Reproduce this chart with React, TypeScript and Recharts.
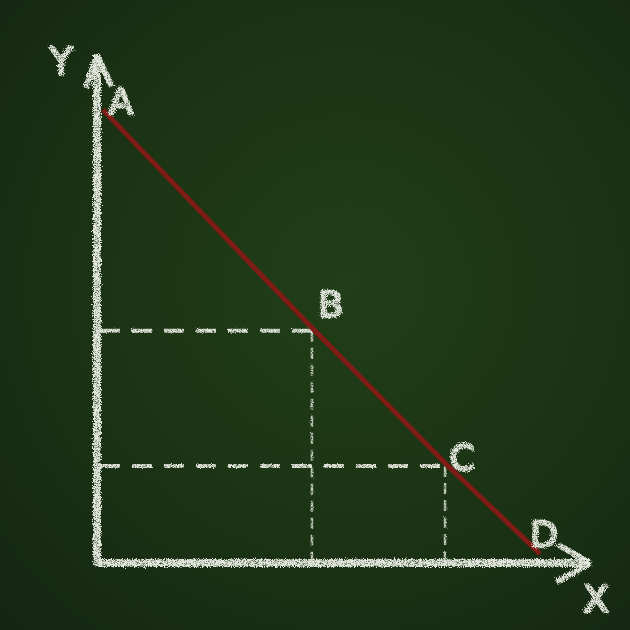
import { ComposedChart, Line, XAxis, YAxis, ReferenceLine, ReferenceDot } from 'recharts'

// points on the red line (0..100 on both axes)
const pointNames = ['A', 'B', 'C', 'D']
const pointX = [1.2, 44.2, 71.2, 89.9]
const pointY = [89.2, 45.7, 19.1, 1.8]

// which points get dashed guide lines to the axes
const guidePoints = ['B', 'C']

const CHALK = '#e2e6dc'
const RED = '#7e1a13'

// label nudges (px) for each letter
const labelNudge: Record<string, [number, number]> = {
  A: [18, -8],
  B: [16, -26],
  C: [14, -8],
  D: [4, -19],
}

const data = pointNames.map((name, i) => ({ name, x: pointX[i], y: pointY[i] }))

const ChalkLetter = ({ viewBox, value, dx, dy, size = 36 }: any) => {
  const cx = viewBox.x + (viewBox.width ?? 0) / 2
  const cy = viewBox.y + (viewBox.height ?? 0) / 2
  return (
    <text
      x={cx + dx}
      y={cy + dy}
      fill={CHALK}
      stroke={CHALK}
      strokeWidth={2.5}
      strokeLinejoin="round"
      fontSize={size}
      fontFamily="DejaVu Sans, sans-serif"
      textAnchor="middle"
      dominantBaseline="central"
      filter="url(#chalk)"
    >
      {value}
    </text>
  )
}

export default function App() {
  return (
    <div
      style={{
        position: 'absolute',
        left: 0,
        top: 0,
        width: 630,
        height: 630,
        background: 'radial-gradient(ellipse at 55% 45%, #213e18 0%, #1b3314 55%, #132611 100%)',
      }}
    >
      <svg width={0} height={0} style={{ position: 'absolute' }}>
        <defs>
          {/* userSpaceOnUse so that straight horizontal / vertical strokes still get a filter region */}
          <filter id="chalk" filterUnits="userSpaceOnUse" x={0} y={0} width={630} height={630}>
            <feTurbulence type="fractalNoise" baseFrequency="0.9" numOctaves={2} result="noise" />
            <feDisplacementMap in="SourceGraphic" in2="noise" scale={6} result="rough" />
            <feTurbulence type="fractalNoise" baseFrequency="1.6" numOctaves={1} seed={3} result="grain" />
            <feColorMatrix in="grain" type="matrix" values="0 0 0 0 0  0 0 0 0 0  0 0 0 0 0  0 0 0 3 -0.55" result="grainA" />
            <feComposite in="rough" in2="grainA" operator="in" />
          </filter>
          <filter id="chalkThin" filterUnits="userSpaceOnUse" x={0} y={0} width={630} height={630}>
            <feTurbulence type="fractalNoise" baseFrequency="1.2" numOctaves={1} result="noise" />
            <feDisplacementMap in="SourceGraphic" in2="noise" scale={3} result="rough" />
            <feTurbulence type="fractalNoise" baseFrequency="1.8" numOctaves={1} seed={7} result="grain" />
            <feColorMatrix in="grain" type="matrix" values="0 0 0 0 0  0 0 0 0 0  0 0 0 0 0  0 0 0 2.6 -0.4" result="grainA" />
            <feComposite in="rough" in2="grainA" operator="in" />
          </filter>
          <filter id="redRough" filterUnits="userSpaceOnUse" x={0} y={0} width={630} height={630}>
            <feTurbulence type="fractalNoise" baseFrequency="0.7" numOctaves={1} seed={5} result="noise" />
            <feDisplacementMap in="SourceGraphic" in2="noise" scale={2.5} />
          </filter>
        </defs>
      </svg>
      <ComposedChart
        width={630}
        height={630}
        data={data}
        margin={{ top: 55, right: 40, bottom: 67, left: 97 }}
      >
        <XAxis type="number" dataKey="x" domain={[0, 100]} tick={false} tickLine={false} height={0} axisLine={false} />
        <YAxis type="number" dataKey="y" domain={[0, 100]} tick={false} tickLine={false} width={0} axisLine={false} />

        {/* chalk axes */}
        <ReferenceLine segment={[{ x: 0, y: -0.5 }, { x: 0, y: 100 }]} stroke={CHALK} strokeWidth={8} ifOverflow="visible" filter="url(#chalk)" />
        <ReferenceLine segment={[{ x: 0, y: 0 }, { x: 100, y: 0 }]} stroke={CHALK} strokeWidth={8} ifOverflow="visible" filter="url(#chalk)" />
        {/* arrow heads */}
        <ReferenceLine segment={[{ x: 0, y: 100 }, { x: -2.2, y: 93.5 }]} stroke={CHALK} strokeWidth={6} ifOverflow="visible" filter="url(#chalk)" />
        <ReferenceLine segment={[{ x: 0, y: 100 }, { x: 3, y: 93.8 }]} stroke={CHALK} strokeWidth={6} ifOverflow="visible" filter="url(#chalk)" />
        <ReferenceLine segment={[{ x: 100, y: 0 }, { x: 93.5, y: 3.6 }]} stroke={CHALK} strokeWidth={6} ifOverflow="visible" filter="url(#chalk)" />
        <ReferenceLine segment={[{ x: 100, y: 0 }, { x: 93.2, y: -3.8 }]} stroke={CHALK} strokeWidth={6} ifOverflow="visible" filter="url(#chalk)" />

        {/* dashed guides */}
        {data
          .filter((d) => guidePoints.includes(d.name))
          .map((d) => (
            <ReferenceLine
              key={'h' + d.name}
              segment={[{ x: 0.6, y: d.y }, { x: d.x, y: d.y }]}
              stroke={CHALK}
              strokeWidth={4}
              strokeDasharray="20 12"
              filter="url(#chalkThin)"
            />
          ))}
        {data
          .filter((d) => guidePoints.includes(d.name))
          .map((d) => (
            <ReferenceLine
              key={'v' + d.name}
              segment={[{ x: d.x - 0.6, y: d.y }, { x: d.x - 0.6, y: 0 }]}
              stroke={CHALK}
              strokeWidth={2.5}
              strokeDasharray="11 6"
              strokeOpacity={0.85}
              filter="url(#chalkThin)"
            />
          ))}

        <Line
          dataKey="y"
          type="linear"
          stroke={RED}
          strokeWidth={5}
          dot={false}
          activeDot={false}
          isAnimationActive={false}
          filter="url(#redRough)"
        />

        {data.map((d) => (
          <ReferenceDot
            key={d.name}
            x={d.x}
            y={d.y}
            r={0}
            fill="none"
            stroke="none"
            ifOverflow="visible"
            label={<ChalkLetter value={d.name} dx={labelNudge[d.name][0]} dy={labelNudge[d.name][1]} />}
          />
        ))}
        {/* axis names */}
        <ReferenceDot x={0} y={100} r={0} fill="none" stroke="none" ifOverflow="visible" label={<ChalkLetter value="Y" dx={-36} dy={6} size={38} />} />
        <ReferenceDot x={100} y={0} r={0} fill="none" stroke="none" ifOverflow="visible" label={<ChalkLetter value="X" dx={6} dy={36} size={38} />} />
      </ComposedChart>
    </div>
  )
}
